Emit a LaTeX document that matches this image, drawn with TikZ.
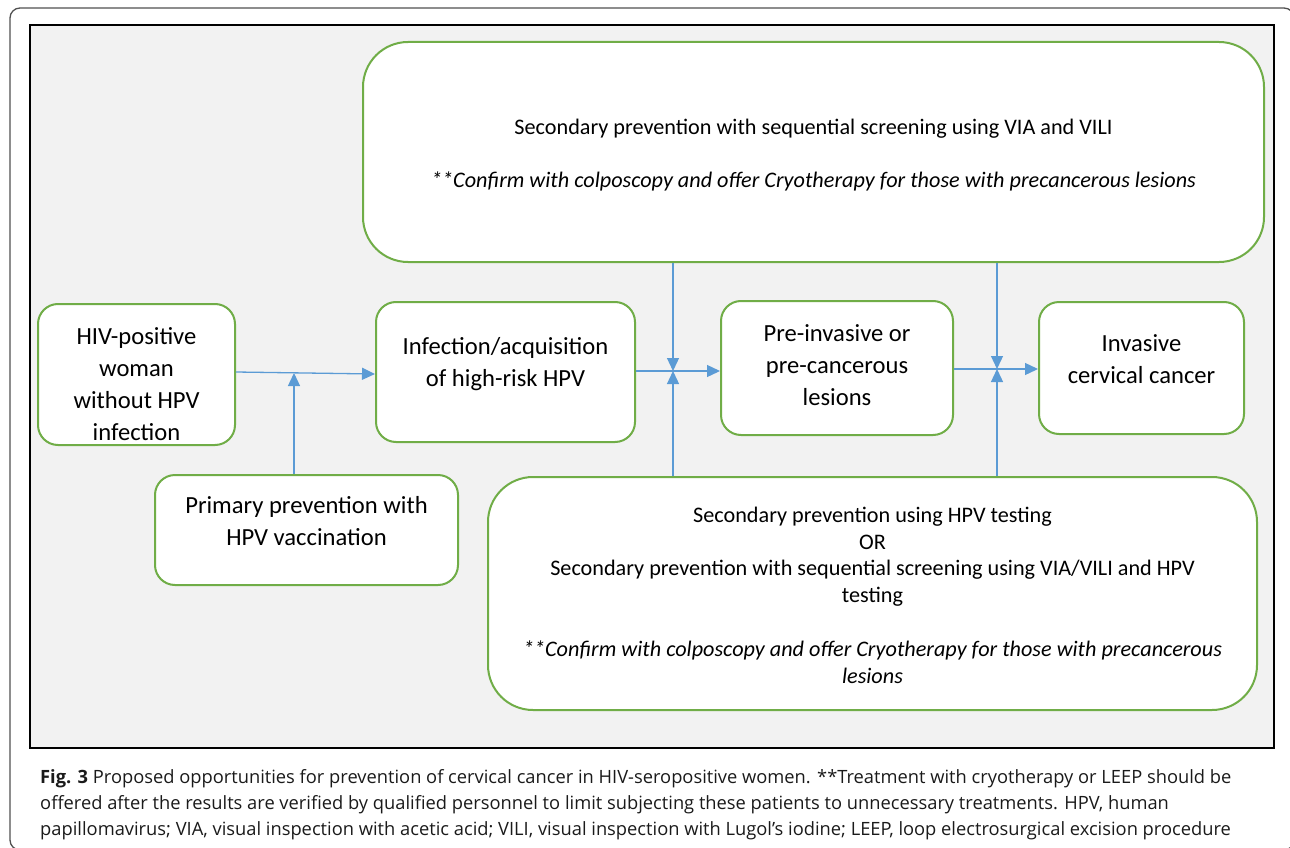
\documentclass[tikz,border=0pt]{standalone}
\usepackage{fontspec}
\setmainfont{Carlito}
\newfontfamily\capfont{Open Sans}
\usetikzlibrary{arrows.meta}
\definecolor{boxgreen}{HTML}{70AD47}
\definecolor{arrblue}{HTML}{5B9BD5}
\definecolor{panelgray}{HTML}{F2F2F2}
\definecolor{framegray}{HTML}{505050}
\definecolor{captxt}{HTML}{1A1A1A}
\tikzset{
  x=1pt, y=-1pt,
  stage/.style={draw=boxgreen, line width=2pt, fill=white, rounded corners=20pt, inner sep=0pt},
  bigbox/.style={draw=boxgreen, line width=2pt, fill=white, rounded corners=45pt, inner sep=0pt},
  stagetxt/.style={align=center, font=\fontsize{24.6}{32}\selectfont, inner sep=0pt},
  bigtxt/.style={align=center, font=\fontsize{22.2}{26.8}\selectfont, inner sep=0pt},
  arr/.style={draw=arrblue, line width=1.3pt, -{Triangle[length=13pt,width=12pt]}},
}
\begin{document}
\begin{tikzpicture}
\useasboundingbox (0,0) rectangle (1290,848);
\begin{scope}
\clip (0,0) rectangle (1290,848);
\draw[framegray, line width=1.3pt, rounded corners=10pt] (10,8) rectangle (1294,850);
\end{scope}
\draw[black, line width=1.6pt, fill=panelgray] (30,25) rectangle (1274,748);

% boxes
\node[stage, minimum width=197pt, minimum height=141pt] (A) at (136.5,374.5) {};
\node[stage, minimum width=259pt, minimum height=140pt] (B) at (505.5,372) {};
\node[stage, minimum width=232pt, minimum height=134pt] (C) at (837,368) {};
\node[stage, minimum width=205pt, minimum height=132pt] (D) at (1141.5,368) {};
\node[stage, minimum width=303pt, minimum height=110pt] (E) at (306.5,530) {};
\node[bigbox, minimum width=901pt, minimum height=220pt] (F) at (813.5,152) {};
\node[bigbox, minimum width=769pt, minimum height=233pt] (G) at (872.5,593.5) {};

% texts
\node[stagetxt, yshift=-10pt] (At) at (A.center) {HIV-positive\\woman\\without HPV\\infection};
\node[stagetxt, yshift=8pt] (Bt) at (B.center) {Infection/acquisition\\of high-risk HPV};
\node[stagetxt, yshift=3pt] (Ct) at (C.center) {Pre-invasive or\\pre-cancerous\\lesions};
\node[stagetxt, yshift=9pt] (Dt) at (D.center) {Invasive\\cervical cancer};
\node[stagetxt, yshift=9pt] (Et) at (E.center) {Primary prevention with\\HPV vaccination};
\node[bigtxt, yshift=-3pt] (Ft) at (F.center)
  {Secondary prevention with sequential screening using VIA and VILI\\[26.8pt]
   \itshape **Confirm with colposcopy and offer Cryotherapy for those with precancerous lesions};
\node[bigtxt, yshift=-1.5pt] (Gt) at (G.center)
  {Secondary prevention using HPV testing\\OR\\
   Secondary prevention with sequential screening using VIA/VILI and HPV\\testing\\[26.8pt]
   \itshape **Confirm with colposcopy and offer Cryotherapy for those with precancerous\\
   \itshape lesions};

% junctions
\coordinate (J1) at (294,373);
\coordinate (J2) at (673,371);
\coordinate (J3) at (997,369);

\draw[arr] (A.east |- 0,372) -- (B.west |- 0,374);
\draw[arr] (E.north -| J1) -- (J1);
\draw[arr] (B.east |- J2) -- (C.west |- J2);
\draw[arr] (F.south -| J2) -- (J2);
\draw[arr] (G.north -| J2) -- (J2);
\draw[arr] (C.east |- J3) -- (D.west |- J3);
\draw[arr] (F.south -| J3) -- (J3);
\draw[arr] (G.north -| J3) -- (J3);

% caption
\node[anchor=base west, align=left, inner sep=0pt, text=captxt,
  font=\capfont\fontsize{18.3}{26}\selectfont] (cap) at (40,835)
  {\textbf{Fig. 3} Proposed opportunities for prevention of cervical cancer in HIV-seropositive women. **Treatment with cryotherapy or LEEP should be\\
  offered after the results are verified by qualified personnel to limit subjecting these patients to unnecessary treatments. HPV, human\\
  papillomavirus; VIA, visual inspection with acetic acid; VILI, visual inspection with Lugol’s iodine; LEEP, loop electrosurgical excision procedure};
\end{tikzpicture}
\end{document}
